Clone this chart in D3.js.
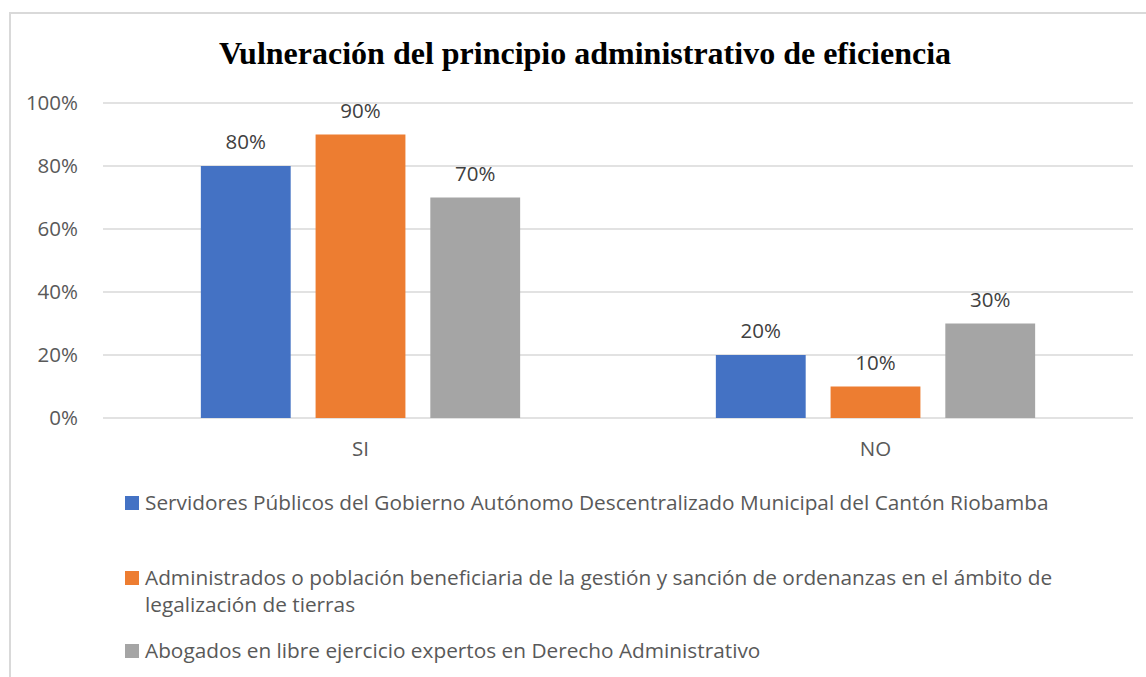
<!DOCTYPE html>
<html>
<head>
<meta charset="utf-8">
<script src="https://cdn.jsdelivr.net/npm/d3@7"></script>
<style>
  body { margin: 0; background: #fff; }
  svg { display: block; }
</style>
</head>
<body>
<div id="chart"></div>
<script>
const categories = ['SI', 'NO'];
const seriesNames = [
    'Servidores Públicos del Gobierno Autónomo Descentralizado Municipal del Cantón Riobamba',
    'Administrados o población beneficiaria de la gestión y sanción de ordenanzas en el ámbito de legalización de tierras',
    'Abogados en libre ejercicio expertos en Derecho Administrativo'
];
const servidores = [0.8, 0.2];
const administrados = [0.9, 0.1];
const abogados = [0.7, 0.3];
const yTicks = [0, 0.2, 0.4, 0.6, 0.8, 1.0];
const colors = ['#4472c4', '#ed7d31', '#a5a5a5'];

const W = 1146, H = 677;
const labelFont = '"Open Sans", "Noto Sans", sans-serif';
const labelSize = '20.5px';
const legendSize = '20.8px';

const svg = d3.select('#chart')
    .append('svg')
    .attr('width', W)
    .attr('height', H);

// chart border (runs off right and bottom edges)
svg.append('rect')
    .attr('x', 10).attr('y', 13)
    .attr('width', W + 20).attr('height', H + 20)
    .attr('fill', 'none')
    .attr('stroke', '#d9d9d9')
    .attr('stroke-width', 2);

svg.append('text')
    .attr('x', 585).attr('y', 64)
    .attr('text-anchor', 'middle')
    .style('font-family', '"Liberation Serif", "Times New Roman", serif')
    .style('font-weight', 'bold')
    .style('font-size', '32px')
    .style('fill', '#000')
    .text('Vulneración del principio administrativo de eficiencia');

const plot = { left: 103, right: 1133, top: 103, bottom: 418 };

const y = d3.scaleLinear()
    .domain([0, 1])
    .range([plot.bottom, plot.top]);

const x0 = d3.scaleBand()
    .domain(categories)
    .range([plot.left, plot.right])
    .paddingInner(0.38)
    .paddingOuter(0.19);

const x1 = d3.scaleBand()
    .domain(d3.range(3))
    .range([0, x0.bandwidth()])
    .paddingInner(0.217);

// gridlines
svg.append('g')
    .selectAll('line')
    .data(yTicks)
    .enter().append('line')
    .attr('x1', plot.left).attr('x2', plot.right)
    .attr('y1', d => y(d)).attr('y2', d => y(d))
    .attr('stroke', '#d9d9d9')
    .attr('stroke-width', 1.5);

// y axis labels
const yAxis = svg.append('g')
    .attr('transform', `translate(${plot.left - 22},0)`)
    .call(d3.axisLeft(y).tickValues(yTicks).tickFormat(d3.format('.0%')).tickSize(0));
yAxis.select('.domain').remove();
yAxis.selectAll('text')
    .style('font-family', labelFont)
    .style('font-size', labelSize)
    .style('fill', '#595959');

// x axis labels
const xAxis = svg.append('g')
    .attr('transform', `translate(0,${plot.bottom + 20})`)
    .call(d3.axisBottom(x0).tickSize(0));
xAxis.select('.domain').remove();
xAxis.selectAll('text')
    .style('font-family', labelFont)
    .style('font-size', labelSize)
    .style('fill', '#595959');

const rows = categories.map((c, i) => ({
    cat: c,
    vals: [servidores[i], administrados[i], abogados[i]]
}));

const groups = svg.append('g')
    .selectAll('g')
    .data(rows)
    .enter().append('g')
    .attr('transform', d => `translate(${x0(d.cat)},0)`);

groups.selectAll('rect')
    .data(d => d.vals.map((v, k) => ({ v, k })))
    .enter().append('rect')
    .attr('x', d => x1(d.k))
    .attr('y', d => y(d.v))
    .attr('width', x1.bandwidth())
    .attr('height', d => y(0) - y(d.v))
    .attr('fill', d => colors[d.k]);

groups.selectAll('text.lbl')
    .data(d => d.vals.map((v, k) => ({ v, k })))
    .enter().append('text')
    .attr('class', 'lbl')
    .attr('x', d => x1(d.k) + x1.bandwidth() / 2)
    .attr('y', d => y(d.v) - 24)
    .attr('dy', '0.35em')
    .attr('text-anchor', 'middle')
    .style('font-family', labelFont)
    .style('font-size', labelSize)
    .style('fill', '#404040')
    .text(d => d3.format('.0%')(d.v));

// legend
const legendLines = [
    [seriesNames[0]],
    ['Administrados o población beneficiaria de la gestión y sanción de ordenanzas en el ámbito de', 'legalización de tierras'],
    [seriesNames[2]]
];
const legendY = [503, 578, 651];

const legend = svg.append('g')
    .selectAll('g')
    .data(legendLines)
    .enter().append('g')
    .attr('transform', (d, i) => `translate(125,${legendY[i]})`);

legend.append('rect')
    .attr('x', 0).attr('y', -7)
    .attr('width', 14).attr('height', 14)
    .attr('fill', (d, i) => colors[i]);

legend.each(function(lines) {
    d3.select(this).selectAll('text')
        .data(lines)
        .enter().append('text')
        .attr('x', 20)
        .attr('y', (d, j) => j * 27)
        .attr('dy', '0.35em')
        .style('font-family', labelFont)
        .style('font-size', legendSize)
        .style('fill', '#595959')
        .text(d => d);
});
</script>
</body>
</html>
